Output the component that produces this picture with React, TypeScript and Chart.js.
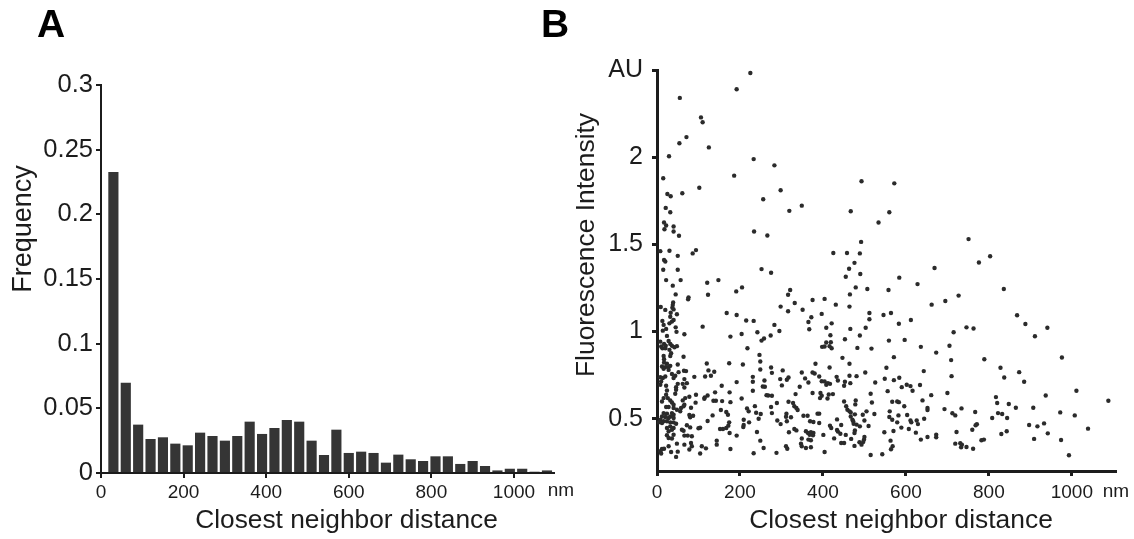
import React, { useEffect, useRef } from "react";
import { Chart, registerables } from "chart.js";

Chart.register(...registerables);

const binCenters = [30,60,90,120,150,180,210,240,270,300,330,360,390,420,450,480,510,540,570,600,630,660,690,720,750,780,810,840,870,900,930,960,990,1020,1050,1080];
const frequencies = [0.2328,0.0698,0.0374,0.0263,0.0276,0.0227,0.0214,0.0312,0.0286,0.025,0.0286,0.0397,0.0302,0.0348,0.041,0.0397,0.025,0.0139,0.0335,0.0155,0.0165,0.0155,0.008,0.0142,0.0106,0.0093,0.0129,0.0129,0.007,0.0093,0.0054,0.002,0.0033,0.0033,0.001,0.002];
const xTickValues = [0,200,400,600,800,1000];
const freqTicks = [0,0.05,0.1,0.15,0.2,0.25,0.3];
const freqTickLabels = ["0","0.05","0.1","0.15","0.2","0.25","0.3"];
const intensityTicks = [0.5,1,1.5,2,2.5];
const intensityTickLabels = ["0.5","1","1.5","2","AU"];
const xAxisTitle = "Closest neighbor distance";
const freqAxisTitle = "Frequency";
const intensityAxisTitle = "Fluorescence Intensity";
const unitLabel = "nm";

const upperSamples: [number, number][] = [
[225,2.483],[192,2.39],[55,2.34],[106,2.228],[110,2.2],[71,2.115],[54,2.08],[125,2.056],[29,2.005],[233,1.989],[283,1.953],[186,1.894],[15,1.879],[102,1.825],[493,1.862],[298,1.81],[25,1.789],[33,1.776],[61,1.793],[256,1.759],[349,1.722],[21,1.709],[32,1.684],[319,1.692],[467,1.69],[17,1.625],[22,1.608],[40,1.602],[18,1.587],[40,1.574],[53,1.549],[234,1.574],[266,1.551],[492,1.514],[8,1.461],[30,1.463],[94,1.467],[86,1.448],[50,1.434],[425,1.45],[458,1.45],[489,1.448],[17,1.41],[20,1.402],[476,1.394],[463,1.36],[252,1.358],[15,1.354],[50,1.354],
[572,1.85],[560,1.684],[534,1.625],[751,1.53],[803,1.432],[776,1.396],[669,1.364],
];
const leftSamples: [number, number][] = [
[275,1.337],[22,1.295],[57,1.295],[38,1.263],[121,1.28],[148,1.295],[205,1.253],[191,1.23],[45,1.213],[123,1.211],[76,1.196],[75,1.185],[321,1.238],[316,1.211],[39,1.167],[38,1.152],[332,1.164],[298,1.143],[9,1.141],[20,1.124],[37,1.137],[40,1.127],[316,1.116],[351,1.125],[33,1.108],[48,1.099],[168,1.106],[192,1.095],[32,1.085],[215,1.063],[233,1.061],[283,1.038],[365,1.055],[13,1.061],[40,1.066],[36,1.057],[30,1.047],[16,1.038],[110,1.028],[367,1.013],[45,1.024],[22,1.015],[14,1.005],[47,0.998],[242,0.996],[295,1.003],[66,0.984],[204,0.986],[177,0.971],[274,0.977],[258,0.96],[252,0.948],[24,0.975],[8,0.942],[28,0.946],[17,0.929],[10,0.914],[32,0.929],[48,0.916],[21,0.918],[36,0.918],[218,0.904],[13,0.904],[20,0.904],[30,0.895],[42,0.91],[34,0.876],[247,0.866],[16,0.86],[64,0.855],[17,0.841],[32,0.86],[249,0.828],[174,0.818],[120,0.817],[207,0.811],[50,0.811],[17,0.822],[24,0.815],[12,0.799],[20,0.796],[28,0.796],[32,0.803],[16,0.786],[28,0.78],[275,0.794],[249,0.782],[303,0.777],[124,0.777],[138,0.769],[65,0.775],[70,0.773],[52,0.767],[277,0.763],[349,0.765],[130,0.746],[116,0.742],[90,0.74],[231,0.74],[317,0.736],[357,0.731],[297,0.727],[313,0.723],[20,0.742],[8,0.738],[36,0.756],[44,0.746],[40,0.733],[14,0.733],[66,0.727],[192,0.71],[231,0.712],[259,0.719],[365,0.708],[50,0.7],[62,0.7],[72,0.704],[301,0.691],[255,0.685],[260,0.683],[344,0.683],[156,0.689],[66,0.679],[46,0.681],[22,0.689],[46,0.666],[10,0.714],[8,0.695],[231,0.66],[175,0.651],[140,0.651],[334,0.641],[24,0.662],[22,0.637],[44,0.643],[78,0.626],[94,0.637],[122,0.633],[115,0.622],[114,0.614],[264,0.635],[268,0.633],[277,0.632],[16,0.618],[26,0.618],[32,0.605],[68,0.618],[62,0.605],[204,0.616],[136,0.603],[142,0.603],[157,0.601],[177,0.595],[289,0.59],[93,0.592],[36,0.593],[40,0.58],[12,0.599],[317,0.597],[328,0.59],[82,0.563],[66,0.58],[64,0.571],[58,0.561],[236,0.572],[275,0.567],[217,0.559],[221,0.542],[331,0.571],[336,0.561],[339,0.55],[56,0.542],[22,0.567],[28,0.567],[40,0.561],[48,0.551],[154,0.55],[167,0.538],[171,0.523],[239,0.534],[250,0.527],[277,0.532],[312,0.529],[311,0.511],[245,0.5],[134,0.519],[78,0.521],[80,0.508],[87,0.517],[353,0.517],[363,0.517],[323,0.508],[16,0.532],[24,0.529],[36,0.532],[40,0.523],[32,0.513],[12,0.513],[20,0.51],[28,0.504],[40,0.504],[8,0.494],[16,0.485],[24,0.485],[32,0.479],[40,0.479],[46,0.471],[4,0.479],[12,0.475],[209,0.494],[222,0.479],[209,0.464],[208,0.452],[290,0.49],[298,0.469],[313,0.485],[122,0.487],[174,0.479],[172,0.46],[72,0.462],[80,0.45],[104,0.448],[100,0.445],[32,0.456],[24,0.447],[40,0.447],[28,0.428],[36,0.437],[60,0.437],[64,0.431],[152,0.441],[159,0.441],[167,0.447],[331,0.441],[336,0.433],[318,0.422],[241,0.424],[175,0.418],[359,0.428],[364,0.418],[368,0.408],[66,0.403],[74,0.403],[84,0.399],[24,0.405],[40,0.408],[28,0.389],[192,0.403],[36,0.386],[349,0.386],[249,0.374],[144,0.374],[365,0.38],[82,0.361],[144,0.351],[66,0.351],[84,0.342],[48,0.357],[28,0.342],[347,0.357],[349,0.342],[311,0.342],[314,0.328],[257,0.332],[359,0.332],[108,0.342],[118,0.33],[78,0.323],[177,0.326],[12,0.326],[17,0.328],[8,0.313],[34,0.309],[50,0.311],[104,0.3],[46,0.281],[233,0.302],[288,0.304],[10,0.3],
];
const rightSamples: [number, number][] = [
[455,1.314],[490,1.33],[584,1.309],[628,1.272],[479,1.253],[507,1.244],[558,1.238],[465,1.213],[375,1.181],[404,1.187],[727,1.206],[695,1.175],[662,1.154],[431,1.154],[464,1.143],[512,1.106],[397,1.101],[564,1.106],[546,1.095],[512,1.07],[612,1.066],[583,1.045],[421,1.047],[372,1.082],[408,1.022],[466,1.015],[503,1.022],[746,1.024],[763,1.017],[715,0.996],[418,0.979],[489,0.977],[453,0.956],[559,0.948],[597,0.952],[408,0.937],[419,0.939],[398,0.912],[404,0.914],[416,0.916],[421,0.904],[483,0.906],[517,0.902],[636,0.912],[705,0.918],[673,0.879],[447,0.849],[571,0.853],[709,0.836],[382,0.815],[464,0.815],[416,0.794],[553,0.792],[643,0.773],[710,0.744],[375,0.765],[380,0.759],[391,0.742],[433,0.74],[436,0.719],[464,0.746],[481,0.744],[502,0.765],[549,0.729],[571,0.721],[584,0.735],[397,0.715],[404,0.714],[408,0.695],[412,0.704],[417,0.7],[453,0.712],[451,0.689],[466,0.704],[526,0.708],[590,0.681],[602,0.695],[611,0.687],[634,0.693],[616,0.66],[556,0.658],[375,0.647],[394,0.647],[397,0.632],[411,0.616],[393,0.618],[414,0.639],[424,0.641],[515,0.643],[700,0.647],[661,0.635],[640,0.605],[518,0.593],[567,0.597],[579,0.599],[583,0.595],[596,0.571],[451,0.599],[479,0.605],[478,0.582],[456,0.571],[459,0.551],[464,0.542],[467,0.536],[652,0.561],[652,0.55],[693,0.555],[734,0.559],[712,0.531],[719,0.519],[767,0.538],[561,0.542],[505,0.542],[496,0.523],[524,0.527],[387,0.529],[391,0.529],[477,0.525],[467,0.513],[560,0.51],[582,0.519],[603,0.521],[567,0.494],[611,0.49],[626,0.49],[644,0.5],[613,0.479],[629,0.469],[434,0.496],[471,0.494],[500,0.49],[473,0.485],[474,0.471],[481,0.466],[579,0.479],[369,0.485],[377,0.481],[391,0.475],[444,0.464],[417,0.46],[420,0.447],[489,0.456],[510,0.458],[771,0.468],[768,0.462],[760,0.437],[589,0.449],[607,0.441],[434,0.435],[436,0.426],[477,0.433],[476,0.418],[548,0.422],[570,0.429],[624,0.42],[722,0.424],[371,0.422],[377,0.418],[376,0.405],[401,0.407],[442,0.414],[455,0.407],[673,0.408],[673,0.393],[652,0.395],[500,0.395],[499,0.38],[427,0.387],[468,0.384],[371,0.376],[636,0.38],[563,0.374],[488,0.365],[497,0.367],[444,0.361],[451,0.361],[493,0.351],[476,0.344],[371,0.336],[568,0.342],[564,0.325],[719,0.357],[731,0.359],[735,0.351],[733,0.336],[746,0.338],[762,0.328],[404,0.309],[515,0.292],[543,0.296],
[836,1.244],[868,1.093],[888,1.043],[941,1.022],[911,0.973],[789,0.841],[976,0.851],[828,0.792],[873,0.767],[837,0.736],[885,0.712],[1011,0.66],[937,0.633],[817,0.624],[820,0.59],[848,0.584],[865,0.563],[907,0.563],[1088,0.603],[972,0.536],[1007,0.519],[822,0.532],[832,0.527],[844,0.504],[808,0.504],[897,0.464],[917,0.456],[933,0.473],[1039,0.443],[843,0.428],[830,0.412],[942,0.416],[909,0.384],[974,0.378],[788,0.38],[782,0.376],[993,0.29],
];

const FONT = '"Liberation Sans", Arial, sans-serif';
const INK = "#1c1c1c";
const BAR = "#353535";
const DOT = "#2b2b2b";
const B_LEFT = 530;

type Label = { text: string; x: number; y: number; size: number; bold?: boolean; rotate?: boolean };

const freeText = (labels: Label[]) => ({
  id: "freeText",
  afterDraw(chart: any) {
    const ctx = chart.ctx;
    for (const l of labels) {
      ctx.save();
      ctx.fillStyle = l.bold ? "#000" : INK;
      ctx.font = `${l.bold ? "bold " : ""}${l.size}px ${FONT}`;
      ctx.textBaseline = "middle";
      ctx.textAlign = l.bold ? "left" : "center";
      ctx.translate(l.x, l.y);
      if (l.rotate) ctx.rotate(-Math.PI / 2);
      ctx.fillText(l.text, 0, 0);
      ctx.restore();
    }
  },
});

const axisStyle = (lineWidth: number) => ({
  grid: { display: true, offset: false, drawOnChartArea: false, drawTicks: true, tickLength: 5, color: INK, lineWidth },
  border: { display: true, color: INK, width: lineWidth },
});

export default function App() {
  const aRef = useRef<HTMLCanvasElement>(null);
  const bRef = useRef<HTMLCanvasElement>(null);

  useEffect(() => {
    const a = new Chart(aRef.current!, {
      type: "bar",
      data: {
        datasets: [{
          data: binCenters.map((x, i) => ({ x, y: frequencies[i] })),
          backgroundColor: BAR,
          borderWidth: 0,
          barPercentage: 0.82,
          categoryPercentage: 1,
        }],
      },
      options: {
        animation: false,
        responsive: false,
        devicePixelRatio: 1,
        layout: { padding: { left: 0, right: 36, top: 85, bottom: 0 } },
        plugins: { legend: { display: false }, tooltip: { enabled: false } },
        scales: {
          x: {
            type: "linear",
            offset: false,
            min: 0,
            max: 1097,
            afterBuildTicks: (s: any) => { s.ticks = xTickValues.map((value) => ({ value })); },
            afterFit: (s: any) => { s.height = 66; },
            ...axisStyle(2),
            ticks: { autoSkip: false, maxRotation: 0, color: INK, font: { family: FONT, size: 19 }, padding: 3, callback: (v: any) => String(v) },
          },
          y: {
            min: 0,
            max: 0.3,
            afterBuildTicks: (s: any) => { s.ticks = freqTicks.map((value) => ({ value })); },
            afterFit: (s: any) => { s.width = 101; },
            ...axisStyle(2),
            ticks: {
              autoSkip: false,
              color: INK,
              font: { family: FONT, size: 25.5 },
              padding: 3,
              callback: (v: any) => freqTickLabels[freqTicks.indexOf(v)],
            },
          },
        },
      } as any,
      plugins: [freeText([
        { text: "A", x: 37, y: 26, size: 39, bold: true },
        { text: unitLabel, x: 561, y: 491, size: 19 },
        { text: xAxisTitle, x: 346.5, y: 521, size: 26.3 },
        { text: freqAxisTitle, x: 24, y: 229, size: 27, rotate: true },
      ])],
    });

    const b = new Chart(bRef.current!, {
      type: "scatter",
      data: {
        datasets: [{
          data: [...upperSamples, ...leftSamples, ...rightSamples].map(([x, y]) => ({ x, y })),
          backgroundColor: DOT,
          borderWidth: 0,
          pointRadius: 2.2,
        }],
      },
      options: {
        animation: false,
        responsive: false,
        devicePixelRatio: 1,
        layout: { padding: { left: 0, right: 19, top: 70, bottom: 0 } },
        plugins: { legend: { display: false }, tooltip: { enabled: false } },
        scales: {
          x: {
            type: "linear",
            min: 0,
            max: 1104,
            afterBuildTicks: (s: any) => { s.ticks = xTickValues.map((value) => ({ value })); },
            afterFit: (s: any) => { s.height = 68; },
            ...axisStyle(3),
            ticks: { autoSkip: false, maxRotation: 0, color: INK, font: { family: FONT, size: 19 }, padding: 5, callback: (v: any) => String(v) },
          },
          y: {
            min: 0.2,
            max: 2.5,
            afterBuildTicks: (s: any) => { s.ticks = intensityTicks.map((value) => ({ value })); },
            afterFit: (s: any) => { s.width = 657 - B_LEFT; },
            ...axisStyle(3),
            ticks: {
              autoSkip: false,
              color: INK,
              font: { family: FONT, size: 25 },
              padding: 9,
              callback: (v: any) => intensityTickLabels[intensityTicks.indexOf(v)],
            },
          },
        },
      } as any,
      plugins: [freeText([
        { text: "B", x: 541 - B_LEFT, y: 26, size: 39, bold: true },
        { text: unitLabel, x: 1116 - B_LEFT, y: 492, size: 19 },
        { text: xAxisTitle, x: 901 - B_LEFT, y: 521, size: 26.4 },
        { text: intensityAxisTitle, x: 587 - B_LEFT, y: 245, size: 26.4, rotate: true },
      ])],
    });

    return () => { a.destroy(); b.destroy(); };
  }, []);

  return (
    <div style={{ position: "absolute", left: 0, top: 0, width: 1134, height: 539, background: "#fff", overflow: "hidden" }}>
      <canvas ref={aRef} width={590} height={539} style={{ position: "absolute", left: 0, top: 0, display: "block" }} />
      <canvas ref={bRef} width={604} height={539} style={{ position: "absolute", left: B_LEFT, top: 0, display: "block" }} />
    </div>
  );
}
